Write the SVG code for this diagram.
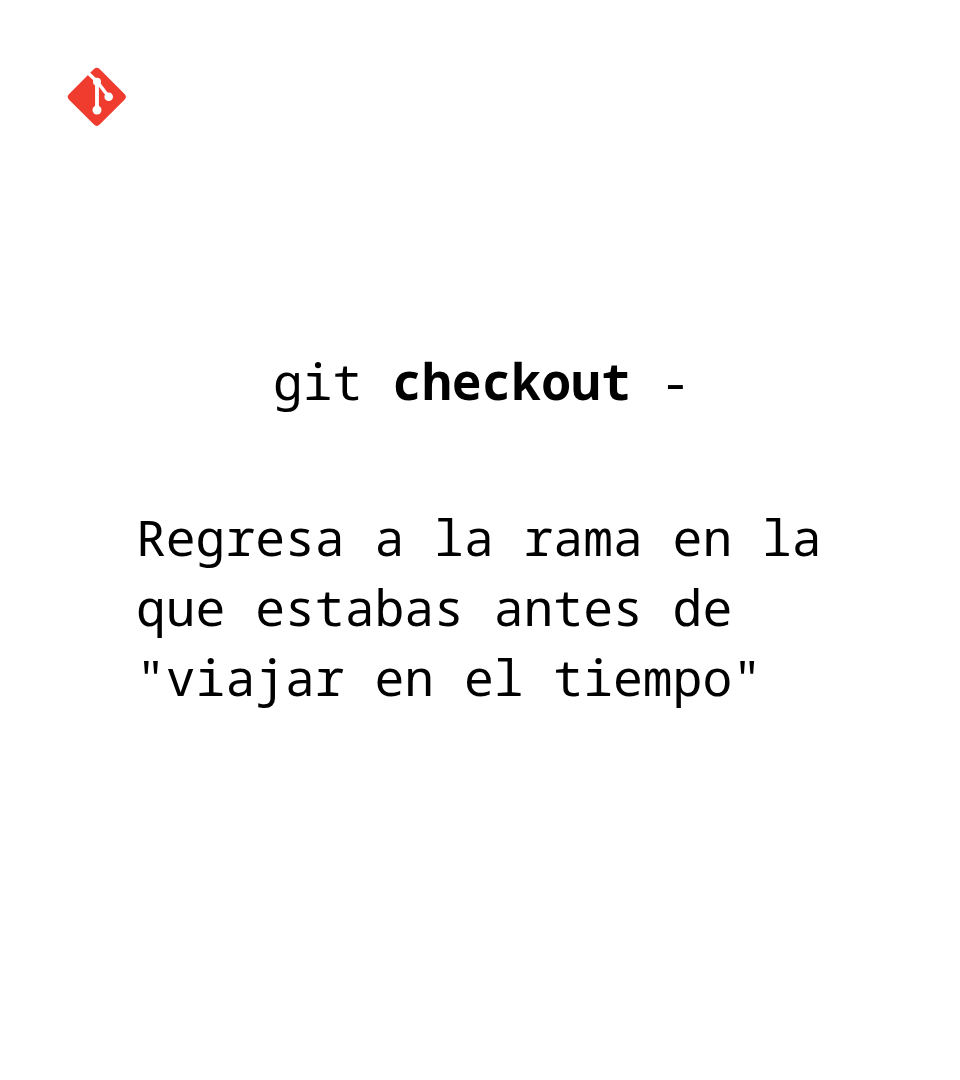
<svg xmlns="http://www.w3.org/2000/svg" width="960" height="1080" viewBox="0 0 960 1080">
<style>
text{font-family:"Noto Sans Mono","DejaVu Sans Mono","Liberation Mono",monospace;font-size:49.7px;fill:#000;white-space:pre}
.cut{stroke:#fff;fill:none;stroke-linecap:butt}
</style>
<rect width="960" height="1080" fill="#fff"/>
<g id="logo">
<rect x="75.200" y="75.200" width="43.200" height="43.200" rx="4" fill="#f03c2e" transform="rotate(45 96.800 96.800)"/>
<path class="cut" stroke-width="3.400" d="M87.500 72.500 97 81.500 108.700 96.700"/>
<path class="cut" stroke-width="3.800" d="M97 81.500V110"/>
<circle cx="97" cy="81.800" r="4" fill="#fff"/>
<circle cx="108.700" cy="96.700" r="4.300" fill="#fff"/>
<circle cx="97" cy="110" r="4.500" fill="#fff"/>
</g>
<text x="273" y="400">git <tspan font-weight="700">checkout</tspan> -</text>
<text x="136" y="556.300">Regresa a la rama en la</text>
<text x="136" y="626.300">que estabas antes de</text>
<text x="136" y="696.300">"viajar en el tiempo"</text>
</svg>
